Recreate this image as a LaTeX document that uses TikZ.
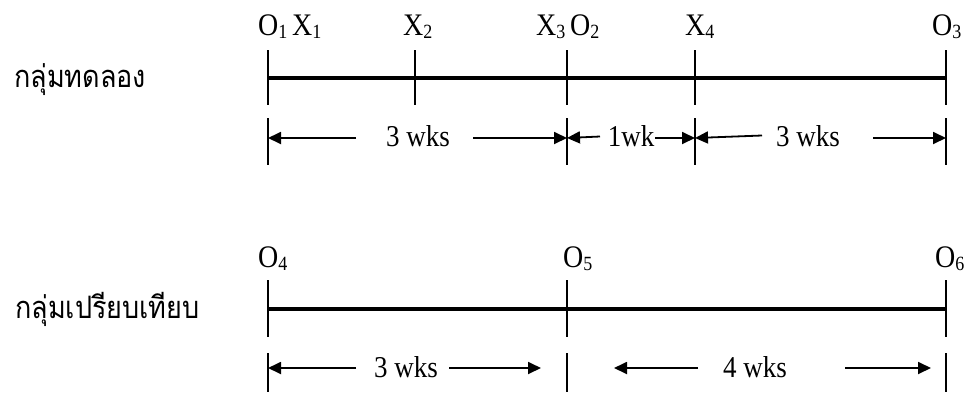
\documentclass[tikz,border=0pt]{standalone}
\usepackage{graphicx}
\usepackage{fontspec}
\setmainfont{Liberation Serif}
\newfontfamily\thaifont[Script=Thai]{Loma}
\usetikzlibrary{arrows.meta}
\newcommand\sbx[1]{\raisebox{-3pt}{\fontsize{18}{18}\selectfont #1}}
\newcommand\tallx[1]{\scalebox{1}[1.12]{#1}}
\newcommand\narrowx[1]{\scalebox{0.9}[1.03]{#1}}
\tikzset{
  tline/.style={line width=3.5pt},
  tick/.style={line width=2pt},
  dimarrow/.style={line width=1.8pt,-{Triangle[length=13pt,width=12pt]}},
  lbl/.style={inner sep=0pt,anchor=base west,font=\fontsize{28}{30}\selectfont},
  wklbl/.style={inner sep=0pt,anchor=base,font=\fontsize{27}{30}\selectfont},
  grp/.style={inner sep=0pt,anchor=base west,font=\thaifont\fontsize{30}{34}\selectfont},
}
\begin{document}
\begin{tikzpicture}[x=1pt,y=-1pt]
\useasboundingbox (0,0) rectangle (971,394);
% group labels
\node[grp] (g1) at (14,87) {\narrowx{กลุ่มทดลอง}};
\node[grp] (g2) at (15,318) {\narrowx{กลุ่มเปรียบเทียบ}};
% top timeline
\foreach \n/\x in {1/268,2/415,3/567,4/695,5/946}{
  \coordinate (a\n) at (\x,78);
  \coordinate (a\n u) at (\x,50);
  \coordinate (a\n d) at (\x,105);
  \draw[tick] (a\n u) -- (a\n d);
}
\draw[tline] (a1) -- (a5);
\foreach \n/\x in {1/268,3/567,4/695,5/946}{
  \coordinate (da\n) at (\x,138);
  \coordinate (da\n u) at (\x,118);
  \coordinate (da\n d) at (\x,165);
  \draw[tick] (da\n u) -- (da\n d);
}
\node[lbl] (l1) at (258,35) {\tallx{O\sbx{1}\,X\sbx{1}}};
\node[lbl] (l2) at (403,35) {\tallx{X\sbx{2}}};
\node[lbl] (l3) at (536,35) {\tallx{X\sbx{3}\,O\sbx{2}}};
\node[lbl] (l4) at (685,35) {\tallx{X\sbx{4}}};
\node[lbl] (l5) at (932,35) {\tallx{O\sbx{3}}};
% top durations
\node[wklbl] (w1) at (418,146) {\tallx{3 wks}};
\coordinate (w1l) at (356,138);
\coordinate (w1r) at (473,138);
\draw[dimarrow] (w1l) -- (da1);
\draw[dimarrow] (w1r) -- (da3);
\node[wklbl] (w2) at (631,146) {\tallx{1wk}};
\coordinate (w2l) at (600,136.5);
\coordinate (w2r) at (655,138);
\draw[dimarrow] (w2l) -- (da3);
\draw[dimarrow] (w2r) -- (da4);
\node[wklbl] (w3) at (808,146) {\tallx{3 wks}};
\coordinate (w3l) at (762,135.5);
\coordinate (w3r) at (873,138);
\draw[dimarrow] (w3l) -- (da4);
\draw[dimarrow] (w3r) -- (da5);
% bottom timeline
\foreach \n/\x in {1/268,2/567,3/946}{
  \coordinate (b\n) at (\x,309);
  \coordinate (b\n u) at (\x,280);
  \coordinate (b\n d) at (\x,337);
  \draw[tick] (b\n u) -- (b\n d);
  \coordinate (db\n) at (\x,368);
  \coordinate (db\n u) at (\x,353);
  \coordinate (db\n d) at (\x,392);
  \draw[tick] (db\n u) -- (db\n d);
}
\draw[tline] (b1) -- (b3);
\node[lbl] (m1) at (258,267) {\tallx{O\sbx{4}}};
\node[lbl] (m2) at (563,267) {\tallx{O\sbx{5}}};
\node[lbl] (m3) at (935,267) {\tallx{O\sbx{6}}};
% bottom durations
\node[wklbl] (w4) at (406,377) {\tallx{3 wks}};
\coordinate (w4l) at (356,368);
\coordinate (w4r) at (449,368);
\coordinate (w4e) at (541,368);
\draw[dimarrow] (w4l) -- (db1);
\draw[dimarrow] (w4r) -- (w4e);
\node[wklbl] (w5) at (755,377) {\tallx{4 wks}};
\coordinate (w5l) at (698,368);
\coordinate (w5s) at (614,368);
\coordinate (w5r) at (845,368);
\coordinate (w5e) at (931,368);
\draw[dimarrow] (w5l) -- (w5s);
\draw[dimarrow] (w5r) -- (w5e);
\end{tikzpicture}
\end{document}
